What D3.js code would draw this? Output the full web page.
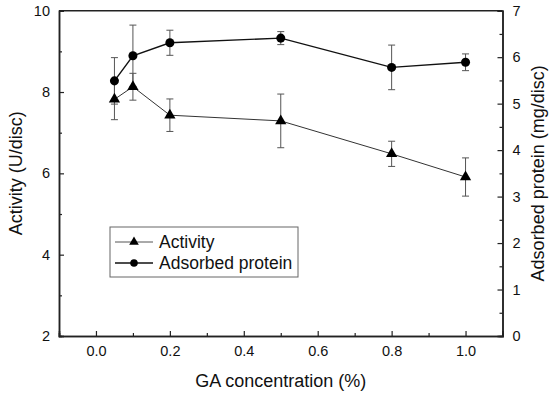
<!DOCTYPE html>
<html>
<head>
<meta charset="utf-8">
<script src="https://cdn.jsdelivr.net/npm/d3@7"></script>
<style>
  body { margin: 0; background: #fff; }
  text { font-family: Arial, "Liberation Sans", sans-serif; fill: #111; }
</style>
</head>
<body>
<div id="chart"></div>
<script>
const width = 550;
const height = 394;

// GA concentration (%)
const conc = [0.05, 0.1, 0.2, 0.5, 0.8, 1.0];
// activity (U/disc), left axis
const activity = [7.82, 8.13, 7.43, 7.29, 6.48, 5.91];
const activityErr = [0.5, 0.33, 0.4, 0.66, 0.31, 0.47];
// adsorbed protein (mg/disc), right axis
const protein = [5.49, 6.03, 6.31, 6.41, 5.78, 5.89];
const proteinErr = [0.5, 0.66, 0.27, 0.14, 0.48, 0.18];

const xTicks = [0.0, 0.2, 0.4, 0.6, 0.8, 1.0];
const leftTicks = [2, 4, 6, 8, 10];
const rightTicks = [0, 1, 2, 3, 4, 5, 6, 7];

const margin = {top: 10.7, right: 47.5, bottom: 58, left: 59};
const fontFam = "Arial, 'Liberation Sans', sans-serif";

const svg = d3.select("#chart")
    .append("svg")
    .attr("width", width)
    .attr("height", height);

const x = d3.scaleLinear()
    .domain([-0.1, 1.1])
    .range([margin.left, width - margin.right]);

const yL = d3.scaleLinear()
    .domain([2, 10])
    .range([height - margin.bottom, margin.top]);

const yR = d3.scaleLinear()
    .domain([0, 7])
    .range([height - margin.bottom, margin.top]);

const g = svg.append("g");

// frame top line
g.append("line")
    .attr("x1", x(-0.1)).attr("x2", x(1.1))
    .attr("y1", yL(10)).attr("y2", yL(10))
    .attr("stroke", "#222").attr("stroke-width", 1.5);

// bottom axis, ticks point inward
g.append("g")
    .attr("transform", `translate(0,${yL(2)})`)
    .call(d3.axisBottom(x).tickValues(xTicks).tickSize(-5).tickPadding(10)
        .tickFormat(d3.format(".1f")));
g.append("g")
    .attr("transform", `translate(0,${yL(2)})`)
    .call(d3.axisBottom(x).tickValues([-0.1, 0.1, 0.3, 0.5, 0.7, 0.9, 1.1]).tickSize(-3).tickFormat(""));

g.append("g")
    .attr("transform", `translate(${x(-0.1)},0)`)
    .call(d3.axisLeft(yL).tickValues(leftTicks).tickSize(-5).tickPadding(9));
g.append("g")
    .attr("transform", `translate(${x(-0.1)},0)`)
    .call(d3.axisLeft(yL).tickValues([3, 5, 7, 9]).tickSize(-3).tickFormat(""));

g.append("g")
    .attr("transform", `translate(${x(1.1)},0)`)
    .call(d3.axisRight(yR).tickValues(rightTicks).tickSize(-5).tickPadding(10)
        .tickFormat(d3.format("d")));
g.append("g")
    .attr("transform", `translate(${x(1.1)},0)`)
    .call(d3.axisRight(yR).tickValues([0.5, 1.5, 2.5, 3.5, 4.5, 5.5, 6.5]).tickSize(-3).tickFormat(""));

g.selectAll(".domain").attr("stroke", "#222").attr("stroke-width", 1.5);
g.selectAll(".tick line").attr("stroke", "#222").attr("stroke-width", 1.2);
g.selectAll("g").attr("font-size", 14.5).attr("font-family", fontFam);
g.selectAll(".tick text").attr("fill", "#111");

// axis titles
svg.append("text")
    .attr("x", x(0.5)).attr("y", 387)
    .attr("text-anchor", "middle").attr("font-size", 18)
    .text("GA concentration (%)");
svg.append("text")
    .attr("transform", `translate(22,${yL(6)}) rotate(-90)`)
    .attr("text-anchor", "middle").attr("font-size", 18)
    .text("Activity (U/disc)");
svg.append("text")
    .attr("transform", `translate(544,${yL(6)}) rotate(-90)`)
    .attr("text-anchor", "middle").attr("font-size", 18)
    .text("Adsorbed protein (mg/disc)");

const actData = conc.map((c, i) => ({x: c, y: activity[i], e: activityErr[i]}));
const proData = conc.map((c, i) => ({x: c, y: protein[i], e: proteinErr[i]}));

function errorBars(data, yScale, color) {
    const eb = svg.append("g").attr("stroke", color).attr("stroke-width", 1);
    data.forEach(d => {
        const top = yScale(d.y + d.e), bot = yScale(d.y - d.e), cx = x(d.x);
        eb.append("line").attr("x1", cx).attr("x2", cx).attr("y1", top).attr("y2", bot);
        eb.append("line").attr("x1", cx - 3.5).attr("x2", cx + 3.5).attr("y1", top).attr("y2", top);
        eb.append("line").attr("x1", cx - 3.5).attr("x2", cx + 3.5).attr("y1", bot).attr("y2", bot);
    });
}

errorBars(actData, yL, "#555");
errorBars(proData, yR, "#555");

const lineAct = d3.line().x(d => x(d.x)).y(d => yL(d.y));
const linePro = d3.line().x(d => x(d.x)).y(d => yR(d.y));

svg.append("path").datum(actData)
    .attr("d", lineAct).attr("fill", "none")
    .attr("stroke", "#333").attr("stroke-width", 1);
svg.append("path").datum(proData)
    .attr("d", linePro).attr("fill", "none")
    .attr("stroke", "#111").attr("stroke-width", 1.4);

const tri = d3.symbol().type(d3.symbolTriangle).size(55);
const circ = d3.symbol().type(d3.symbolCircle).size(64);

svg.selectAll(".tri").data(actData).join("path")
    .attr("class", "tri")
    .attr("transform", d => `translate(${x(d.x)},${yL(d.y)})`)
    .attr("d", tri).attr("fill", "#000");
svg.selectAll(".circ").data(proData).join("path")
    .attr("class", "circ")
    .attr("transform", d => `translate(${x(d.x)},${yR(d.y)})`)
    .attr("d", circ).attr("fill", "#000");

// legend
const legend = svg.append("g");
legend.append("rect")
    .attr("x", 110).attr("y", 227).attr("width", 188).attr("height", 50)
    .attr("fill", "#fff").attr("stroke", "#666").attr("stroke-width", 1);

const legendItems = [
    {label: "Activity", color: "#555", w: 1},
    {label: "Adsorbed protein", color: "#111", w: 1.4}
];
legendItems.forEach((it, i) => {
    const cy = 242 + i * 21;
    legend.append("line")
        .attr("x1", 115).attr("x2", 153).attr("y1", cy).attr("y2", cy)
        .attr("stroke", it.color).attr("stroke-width", it.w);
    legend.append("path")
        .attr("transform", `translate(134,${cy})`)
        .attr("d", d3.symbol().type(i === 0 ? d3.symbolTriangle : d3.symbolCircle).size(i === 0 ? 40 : 45))
        .attr("fill", "#000");
    legend.append("text")
        .attr("x", 159).attr("y", cy + 6)
        .attr("font-size", 17.5)
        .text(it.label);
});
</script>
</body>
</html>
